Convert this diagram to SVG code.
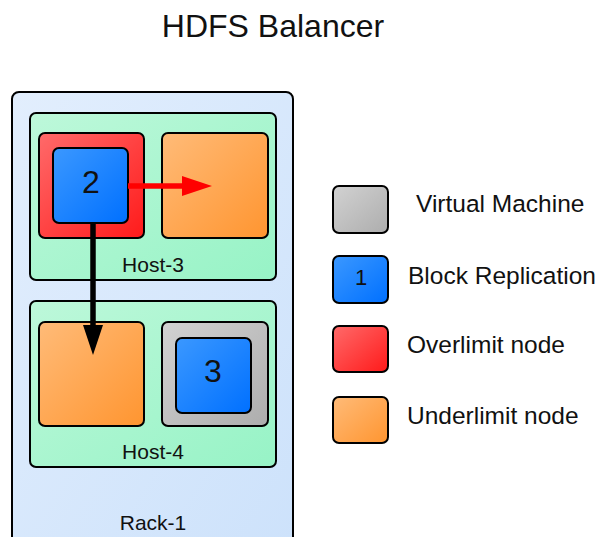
<svg xmlns="http://www.w3.org/2000/svg" width="600" height="537" viewBox="0 0 600 537">
<defs>
<linearGradient id="gRack" x1="0" y1="0" x2="1" y2="1"><stop offset="0" stop-color="#e2eefd"/><stop offset="1" stop-color="#cde2fb"/></linearGradient>
<linearGradient id="gHost" x1="0" y1="0" x2="1" y2="1"><stop offset="0" stop-color="#bdf8da"/><stop offset="1" stop-color="#97f3c6"/></linearGradient>
<linearGradient id="gRed" x1="0" y1="0" x2="1" y2="1"><stop offset="0" stop-color="#ff6a6a"/><stop offset="1" stop-color="#ff1a1a"/></linearGradient>
<linearGradient id="gBlue" x1="0" y1="0" x2="1" y2="1"><stop offset="0" stop-color="#3b98ff"/><stop offset="1" stop-color="#0070ff"/></linearGradient>
<linearGradient id="gOrange" x1="0" y1="0" x2="1" y2="1"><stop offset="0" stop-color="#ffbb78"/><stop offset="1" stop-color="#ff9530"/></linearGradient>
<linearGradient id="gGray" x1="0" y1="0" x2="1" y2="1"><stop offset="0" stop-color="#d2d2d2"/><stop offset="1" stop-color="#adadad"/></linearGradient>
<marker id="arrBlack" viewBox="0 0 30 20" refX="0" refY="10" markerWidth="30" markerHeight="20" markerUnits="userSpaceOnUse" orient="auto" overflow="visible"><path d="M0,0 L30,10 L0,20 Z" fill="#000"/></marker>
<marker id="arrRed" viewBox="0 0 30 20" refX="0" refY="10" markerWidth="30" markerHeight="20" markerUnits="userSpaceOnUse" orient="auto" overflow="visible"><path d="M0,0 L30,10 L0,20 Z" fill="#ff0000"/></marker>
</defs>
<style>
.box{stroke:#000;stroke-width:2}
.t{font-family:"Liberation Sans",Arial,sans-serif;fill:#111}
.lbl{font-size:21px;text-anchor:middle}
.leg{font-size:24.5px}
.num{font-size:32px;text-anchor:middle}
</style>
<text class="t" x="273" y="37" font-size="32" text-anchor="middle">HDFS Balancer</text>

<g id="rack-1">
<rect class="box" x="12" y="92" width="281" height="452" rx="7" fill="url(#gRack)"/>
<text class="t lbl" x="153" y="530">Rack-1</text>
</g>
<g id="host-3">
<rect class="box" x="30" y="113" width="246" height="167" rx="6" fill="url(#gHost)"/>
<text class="t lbl" x="153" y="272">Host-3</text>
</g>
<g id="host-4">
<rect class="box" x="30" y="301" width="246" height="166" rx="6" fill="url(#gHost)"/>
<text class="t lbl" x="153" y="459">Host-4</text>
</g>
<g id="overlimit-node">
<rect class="box" x="39" y="133" width="105" height="105" rx="6" fill="url(#gRed)"/>
</g>
<g id="block-2">
<rect class="box" x="53" y="148" width="75" height="75" rx="6" fill="url(#gBlue)"/>
<text class="t num" x="91" y="193">2</text>
</g>
<g id="underlimit-node-host3">
<rect class="box" x="162" y="133" width="106" height="105" rx="6" fill="url(#gOrange)"/>
</g>
<g id="underlimit-node-host4">
<rect class="box" x="39" y="322" width="105" height="104" rx="6" fill="url(#gOrange)"/>
</g>
<g id="virtual-machine">
<rect class="box" x="162" y="322" width="106" height="104" rx="6" fill="url(#gGray)"/>
</g>
<g id="block-3">
<rect class="box" x="176" y="338" width="75" height="75" rx="6" fill="url(#gBlue)"/>
<text class="t num" x="213" y="382">3</text>
</g>

<g id="connectors">
<line x1="93" y1="223" x2="93" y2="325" stroke="#000" stroke-width="5.5" marker-end="url(#arrBlack)"/>
<line x1="128" y1="186" x2="182" y2="186" stroke="#ff0000" stroke-width="5.5" marker-end="url(#arrRed)"/>
</g>

<g id="legend-vm">
<rect class="box" x="333" y="186" width="55" height="47" rx="6" fill="url(#gGray)"/>
<text class="t leg" x="416" y="212">Virtual Machine</text>
</g>
<g id="legend-block">
<rect class="box" x="333" y="256" width="55" height="47" rx="6" fill="url(#gBlue)"/>
<text class="t" x="361" y="285" font-size="22" text-anchor="middle">1</text>
<text class="t leg" x="408" y="284">Block Replication</text>
</g>
<g id="legend-overlimit">
<rect class="box" x="333" y="326" width="55" height="46" rx="6" fill="url(#gRed)"/>
<text class="t leg" x="407" y="353">Overlimit node</text>
</g>
<g id="legend-underlimit">
<rect class="box" x="333" y="397" width="55" height="46" rx="6" fill="url(#gOrange)"/>
<text class="t leg" x="407" y="424">Underlimit node</text>
</g>
</svg>
